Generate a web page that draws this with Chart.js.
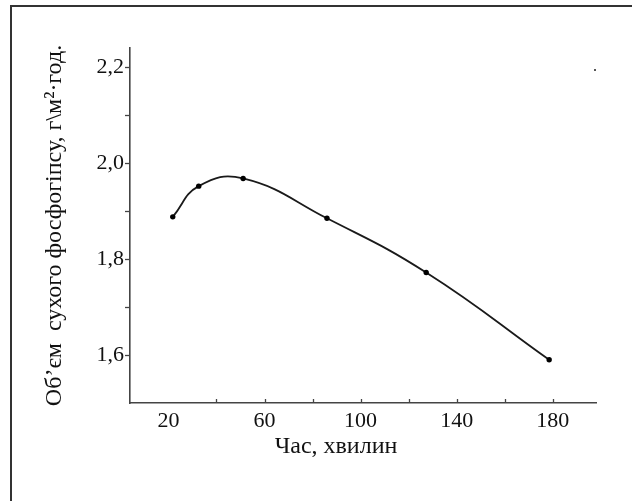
<!DOCTYPE html>
<html>
<head>
<meta charset="utf-8">
<script src="https://cdn.jsdelivr.net/npm/chart.js@4.4.1/dist/chart.umd.min.js"></script>
<style>
  html, body { margin: 0; padding: 0; background: #fff; }
  #wrap { position: relative; width: 632px; height: 501px; overflow: hidden; }
  #frame { position: absolute; left: 10px; top: 5px; width: 640px; height: 520px;
           border-top: 2px solid #333; border-left: 2px solid #333; }
  #speck { position: absolute; left: 594px; top: 69px; width: 2px; height: 2px; background: #555; }
  canvas { position: absolute; left: 0; top: 0; }
</style>
</head>
<body>
<div id="wrap">
  <div id="frame"></div>
  <div id="speck"></div>
  <canvas id="myChart" width="632" height="501"></canvas>
</div>
<script>
// час, хвилин
var timeMin = [21.8, 32.6, 51.1, 86, 127.3, 178.5];
// об'єм сухого фосфогіпсу
var volume = [1.888, 1.952, 1.968, 1.885, 1.772, 1.590];

var xTicks = [20, 40, 60, 80, 100, 120, 140, 160, 180];
var xLabels = [20, 60, 100, 140, 180];
var yTicks = [1.6, 1.7, 1.8, 1.9, 2.0, 2.1, 2.2];
var yLabels = [1.6, 1.8, 2.0, 2.2];

var serif = "'Liberation Serif', 'Times New Roman', serif";

// little tick marks pointing up from the x axis
var innerTicks = {
  id: 'innerTicks',
  afterDraw: function(chart){
    var ctx = chart.ctx;
    var xs = chart.scales.x;
    var y0 = chart.chartArea.bottom;
    ctx.save();
    ctx.strokeStyle = '#444';
    ctx.lineWidth = 1.3;
    xTicks.forEach(function(v){
      if (v === 20) return;
      var px = Math.round(xs.getPixelForValue(v)) + 0.5;
      ctx.beginPath();
      ctx.moveTo(px, y0);
      ctx.lineTo(px, y0 - 4);
      ctx.stroke();
    });
    ctx.restore();
  }
};

function init(){
  var ctx = document.getElementById('myChart').getContext('2d');
  var myChart = new Chart(ctx, {
    type: 'line',
    data: {
      datasets: [{
        data: timeMin.map(function(t, i){ return {x: t, y: volume[i]}; }),
        borderColor: '#1a1a1a',
        borderWidth: 1.8,
        tension: 0.45,
        pointRadius: 2.7,
        pointBackgroundColor: '#000',
        pointBorderWidth: 0,
        fill: false
      }]
    },
    options: {
      responsive: false,
      animation: false,
      layout: { padding: { left: 40, top: 48, right: 36, bottom: 40 } },
      plugins: { legend: { display: false }, tooltip: { enabled: false } },
      scales: {
        x: {
          type: 'linear',
          min: 4,
          max: 198,
          afterBuildTicks: function(s){ s.ticks = xTicks.map(function(v){ return {value: v}; }); },
          afterFit: function(s){ s.height = 58; },
          grid: { display: true, drawOnChartArea: false, drawTicks: false },
          border: { display: true, color: '#444', width: 1.6 },
          ticks: {
            autoSkip: false,
            maxRotation: 0,
            padding: 5,
            color: '#111',
            font: { family: serif, size: 22 },
            callback: function(v){ return xLabels.indexOf(v) >= 0 ? String(v) : ''; }
          },
          title: {
            display: true,
            text: 'Час, хвилин         ',
            color: '#111',
            font: { family: serif, size: 24 },
            padding: { top: 0, bottom: 0 }
          }
        },
        y: {
          min: 1.5,
          max: 2.24,
          afterBuildTicks: function(s){ s.ticks = yTicks.map(function(v){ return {value: v}; }); },
          afterFit: function(s){ s.width = 90; },
          grid: {
            drawOnChartArea: false,
            drawTicks: true,
            tickLength: 5,
            tickColor: '#444',
            tickWidth: 1.3
          },
          border: { display: true, color: '#444', width: 1.6 },
          ticks: {
            autoSkip: false,
            padding: 1,
            color: '#111',
            font: { family: serif, size: 22 },
            callback: function(v){
              var hit = yLabels.some(function(l){ return Math.abs(l - v) < 1e-6; });
              return hit ? v.toFixed(1).replace('.', ',') : '';
            }
          },
          title: {
            display: true,
            text: 'Об\u2019єм  сухого фосфогіпсу, г\\м\u00B2\u00B7год.',
            color: '#111',
            font: { family: serif, size: 24 },
            padding: { top: 0, bottom: 0 }
          }
        }
      }
    },
    plugins: [innerTicks]
  });
}

init();
</script>
</body>
</html>
